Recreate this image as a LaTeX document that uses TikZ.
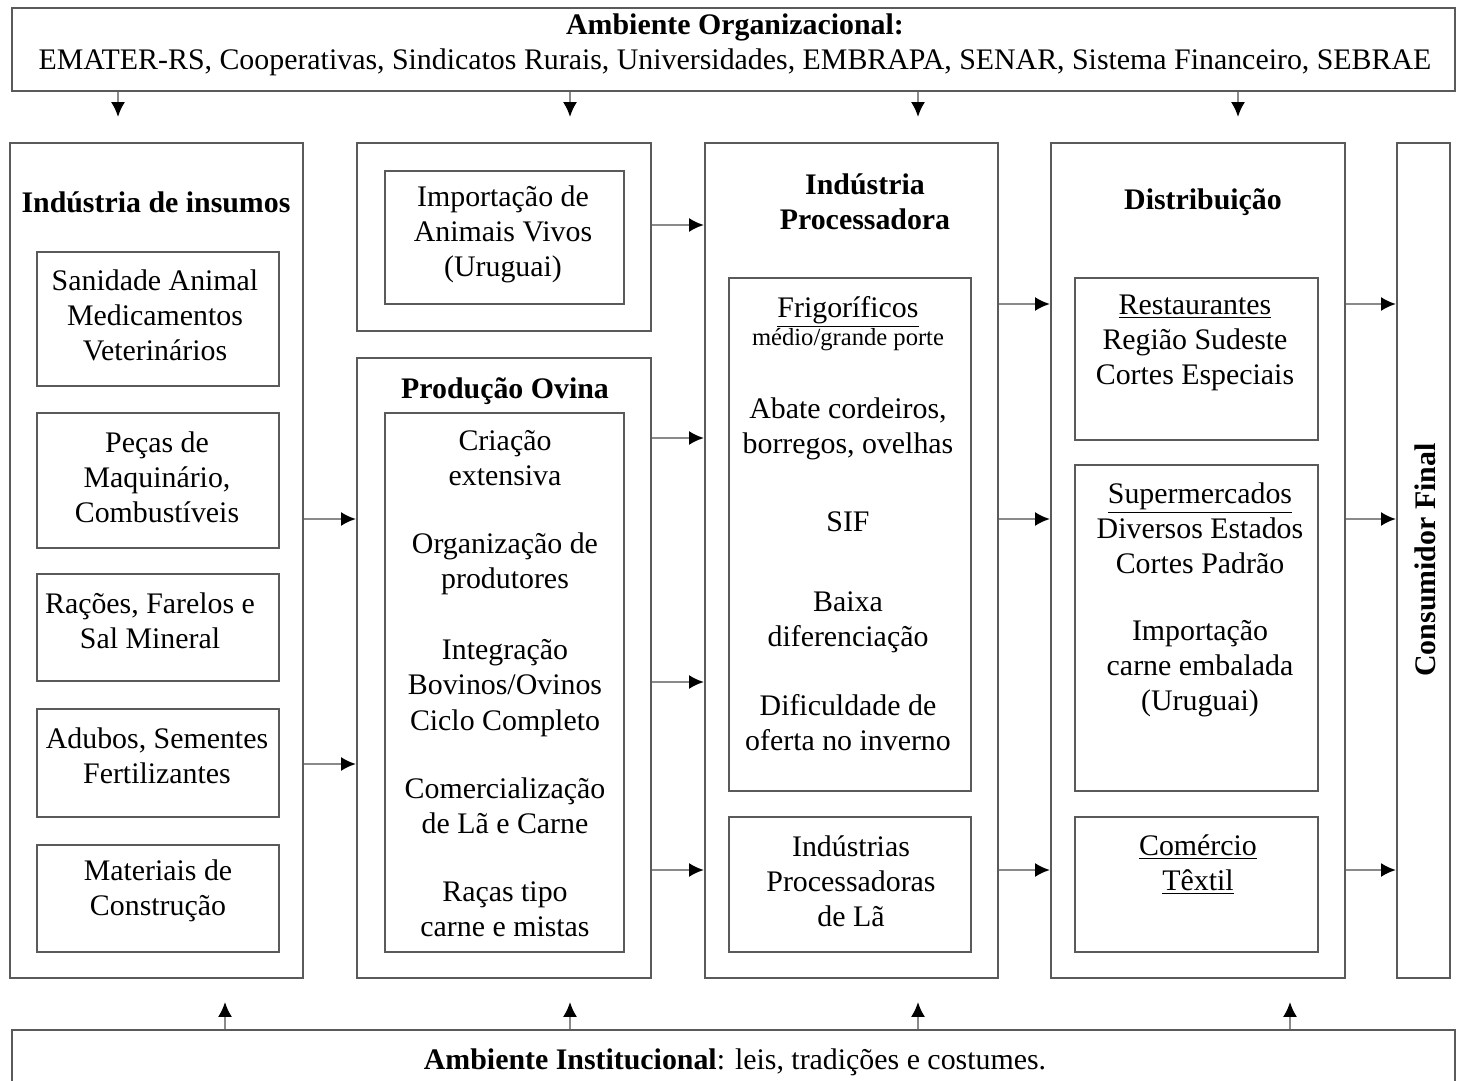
\documentclass[tikz,border=0pt]{standalone}
\usepackage{fontspec}
\setmainfont{Liberation Serif}
\usetikzlibrary{arrows.meta}
\definecolor{linha}{HTML}{5A5A5A}
\definecolor{haste}{HTML}{8A8A8A}

\begin{document}
\begin{tikzpicture}[x=0.02cm, y=-0.02cm,
    every node/.style={font=\fontsize{17}{20}\selectfont},
    caixa/.style={draw=linha, line width=1.2pt, inner sep=0pt},
    texto/.style={align=center, inner sep=1pt},
    titulo/.style={texto, font=\fontsize{17}{20}\selectfont\bfseries},
    seta/.style={draw=haste, line width=1.3pt, -{Latex[length=8.5pt,width=8pt,black]}}]
    \useasboundingbox (0,0) rectangle (1458,1081);
    \clip (0,0) rectangle (1458,1081);

    % ambientes
    \node[caixa, minimum width=28.86cm, minimum height=1.66cm] (org) at (733.5,49.5) {};
    \node[texto] (org-t) at (735,45) {\textbf{Ambiente Organizacional:}\\EMATER-RS, Cooperativas, Sindicatos Rurais, Universidades, EMBRAPA, SENAR, Sistema Financeiro, SEBRAE};
    \node[caixa, minimum width=28.86cm, minimum height=1.6cm] (inst) at (733.5,1070) {};
    \node[texto] (inst-t) at (735,1062) {\textbf{Ambiente Institucional}: leis, tradições e costumes.};

    % industria de insumos
    \node[caixa, minimum width=5.86cm, minimum height=16.7cm] (insumos) at (156.5,560.5) {};
    \node[titulo] (insumos-t) at (156,202) {Indústria de insumos};
    \node[caixa, minimum width=4.84cm, minimum height=2.68cm] (sanidade) at (158,319) {};
    \node[texto] (sanidade-t) at (155,315.5) {Sanidade Animal\\Medicamentos\\Veterinários};
    \node[caixa, minimum width=4.84cm, minimum height=2.70cm] (pecas) at (158,480.5) {};
    \node[texto] (pecas-t) at (157,477) {Peças de\\Maquinário,\\Combustíveis};
    \node[caixa, minimum width=4.84cm, minimum height=2.14cm] (racoes) at (158,627.5) {};
    \node[texto] (racoes-t) at (150,621) {Rações, Farelos e\\Sal Mineral};
    \node[caixa, minimum width=4.84cm, minimum height=2.16cm] (adubos) at (158,763) {};
    \node[texto] (adubos-t) at (157,756) {Adubos, Sementes\\Fertilizantes};
    \node[caixa, minimum width=4.84cm, minimum height=2.14cm] (materiais) at (158,898.5) {};
    \node[texto] (materiais-t) at (158,891) {Materiais de\\Construção};

    % importacao e producao
    \node[caixa, minimum width=5.88cm, minimum height=3.76cm] (importacao) at (504,237) {};
    \node[caixa, minimum width=4.78cm, minimum height=2.66cm] (animais) at (504.5,237.5) {};
    \node[texto] (animais-t) at (503,234.5) {Importação de\\Animais Vivos\\(Uruguai)};
    \node[caixa, minimum width=5.88cm, minimum height=12.4cm] (producao) at (504,668) {};
    \node[titulo] (producao-t) at (505,391) {Produção Ovina};
    \node[caixa, minimum width=4.78cm, minimum height=10.78cm] (ovina) at (504.5,682.5) {};
    \node[texto] (ovina-t) at (505,683.5) {Criação\\extensiva\\[0.66cm]Organização de\\produtores\\[0.72cm]Integração\\Bovinos/Ovinos\\Ciclo Completo\\[0.66cm]Comercialização\\de Lã e Carne\\[0.66cm]Raças tipo\\carne e mistas};

    % industria processadora
    \node[caixa, minimum width=5.86cm, minimum height=16.7cm] (processadora) at (851.5,560.5) {};
    \node[titulo] (processadora-t) at (865,201.5) {Indústria\\Processadora};
    \node[caixa, minimum width=4.84cm, minimum height=10.26cm] (frigo) at (850,534.5) {};
    \node[texto] (frigo-t) at (848,524) {\underline{Frigoríficos}\\[-4pt]{\fontsize{14}{16}\selectfont médio/grande porte}\\[0.74cm]Abate cordeiros,\\borregos, ovelhas\\[0.86cm]SIF\\[0.9cm]Baixa\\diferenciação\\[0.68cm]Dificuldade de\\oferta no inverno};
    \node[caixa, minimum width=4.84cm, minimum height=2.70cm] (la) at (850,884.5) {};
    \node[texto] (la-t) at (851,881.5) {Indústrias\\Processadoras\\de Lã};

    % distribuicao
    \node[caixa, minimum width=5.88cm, minimum height=16.7cm] (distribuicao) at (1198,560.5) {};
    \node[titulo] (distribuicao-t) at (1203,202) {Distribuição};
    \node[caixa, minimum width=4.86cm, minimum height=3.24cm] (rest) at (1196.5,359) {};
    \node[texto] (rest-t) at (1195,343) {\underline{Restaurantes}\\Região Sudeste\\Cortes Especiais};
    \node[caixa, minimum width=4.86cm, minimum height=6.52cm] (super) at (1196.5,628) {};
    \node[texto] (super-t) at (1200,600) {\underline{Supermercados}\\Diversos Estados\\Cortes Padrão\\[0.64cm]Importação\\carne embalada\\(Uruguai)};
    \node[caixa, minimum width=4.86cm, minimum height=2.70cm] (comercio) at (1196.5,884.5) {};
    \node[texto] (comercio-t) at (1198,864.5) {\underline{Comércio}\\\underline{Têxtil}};

    % consumidor
    \node[caixa, minimum width=1.06cm, minimum height=16.7cm] (consumidor) at (1423.5,560.5) {};
    \node[titulo, rotate=90] (consumidor-t) at (1425,560) {Consumidor Final};

    % setas
    \foreach \x in {118,570,918,1238}
        \draw[seta] (org.south -| \x,0) -- ++(0,25);
    \foreach \x in {225,570,918,1290}
        \draw[seta] (inst.north -| \x,0) -- ++(0,-27);
    \foreach \y in {519,764}
        \draw[seta] (insumos.east |- 0,\y) -- (producao.west |- 0,\y);
    \draw[seta] (importacao.east |- 0,225) -- (processadora.west |- 0,225);
    \foreach \y in {438,682,870}
        \draw[seta] (producao.east |- 0,\y) -- (processadora.west |- 0,\y);
    \foreach \y in {304,519,870}
        \draw[seta] (processadora.east |- 0,\y) -- (distribuicao.west |- 0,\y);
    \foreach \y in {304,519,870}
        \draw[seta] (distribuicao.east |- 0,\y) -- (consumidor.west |- 0,\y);
\end{tikzpicture}
\end{document}
